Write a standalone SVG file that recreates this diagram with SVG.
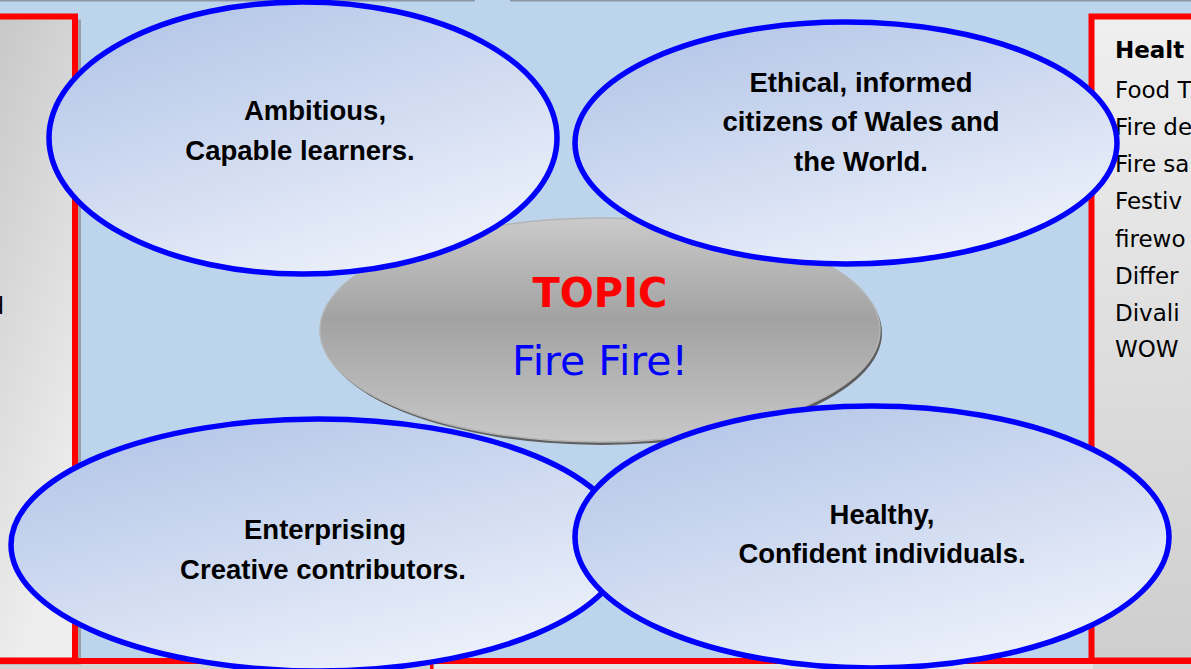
<svg xmlns="http://www.w3.org/2000/svg" width="1191" height="669" viewBox="0 0 1191 669">
  <defs>
    <linearGradient id="gLeft" x1="0" y1="0" x2="0.4" y2="1">
      <stop offset="0" stop-color="#C6C6C6"/>
      <stop offset="1" stop-color="#EEEEEE"/>
    </linearGradient>
    <linearGradient id="gRight" x1="0" y1="0" x2="0" y2="1">
      <stop offset="0" stop-color="#EFEFEF"/>
      <stop offset="1" stop-color="#CECECE"/>
    </linearGradient>
    <linearGradient id="gBlue" x1="0.15" y1="0" x2="0.75" y2="1">
      <stop offset="0" stop-color="#B2C4E7"/>
      <stop offset="1" stop-color="#EEF2FB"/>
    </linearGradient>
    <linearGradient id="gGray" x1="0" y1="0" x2="0" y2="1">
      <stop offset="0" stop-color="#CACACA"/>
      <stop offset="0.45" stop-color="#A2A2A2"/>
      <stop offset="1" stop-color="#C8C8C8"/>
    </linearGradient>
    <style>
      .panel { stroke: #FF0000; stroke-width: 6; }
      .oval { fill: url(#gBlue); stroke: #0000FF; stroke-width: 5.5; }
      .lbl { font-family: "Liberation Sans", Arial, sans-serif; font-weight: bold; font-size: 27.5px; fill: #000000; text-anchor: middle; }
      .side { font-family: "Comic Sans MS", "DejaVu Sans", sans-serif; font-size: 23px; fill: #000000; }
    </style>
  </defs>

  <!-- background -->
  <rect x="0" y="0" width="1191" height="669" fill="#BDD5EC"/>
  <rect x="0" y="0" width="475" height="1.5" fill="#8C96A5"/>
  <rect x="510" y="0" width="681" height="1.5" fill="#8C96A5"/>

  <!-- bottom strip -->
  <rect x="0" y="661" width="1191" height="8" fill="#D6D6D6"/>
  <rect x="433" y="661" width="660" height="8" fill="#E6E6E6"/>

  <!-- left panel -->
  <g id="left-panel">
    <rect x="-7" y="19.5" width="88" height="645" fill="#9AA0A8"/>
    <rect x="-10" y="16.5" width="85" height="644" fill="url(#gLeft)" class="panel"/>
    <text class="side" x="4" y="314" text-anchor="end">d</text>
  </g>

  <!-- right panel -->
  <g id="right-panel">
    <rect x="1091.5" y="16.5" width="120" height="644" fill="url(#gRight)" class="panel"/>
    <text class="side" x="1115" y="58" font-weight="bold">Healt</text>
    <text class="side" x="1115" y="98">Food T</text>
    <text class="side" x="1115" y="135">Fire de</text>
    <text class="side" x="1115" y="172">Fire sa</text>
    <text class="side" x="1115" y="209">Festiv</text>
    <text class="side" x="1115" y="247">firewo</text>
    <text class="side" x="1115" y="284">Differ</text>
    <text class="side" x="1115" y="321">Divali</text>
    <text class="side" x="1115" y="357">WOW</text>
  </g>

  <!-- bottom border lines -->
  <rect x="0" y="658" width="1191" height="6" fill="#FF0000"/>
  <rect x="430" y="661" width="3.5" height="8" fill="#FF0000"/>

  <!-- topic -->
  <g id="topic">
    <ellipse cx="602" cy="333" rx="280" ry="112" fill="#5E5E5E"/>
    <ellipse cx="600" cy="330" rx="280" ry="112" fill="url(#gGray)" stroke="#B4B4B4" stroke-width="1.5"/>
    <text x="600" y="307" text-anchor="middle" font-family="'Comic Sans MS', 'DejaVu Sans', sans-serif" font-weight="bold" font-size="40" fill="#FF0000">TOPIC</text>
    <text x="600" y="375" text-anchor="middle" font-family="'Comic Sans MS', 'DejaVu Sans', sans-serif" font-size="41" fill="#0000FF">Fire Fire!</text>
  </g>

  <g id="ambitious">
    <ellipse class="oval" cx="303" cy="138" rx="254" ry="136"/>
    <text class="lbl" x="315" y="120">Ambitious,</text>
    <text class="lbl" x="300" y="160">Capable learners.</text>
  </g>

  <g id="ethical">
    <ellipse class="oval" cx="846" cy="143" rx="271" ry="121"/>
    <text class="lbl" x="861" y="92">Ethical, informed</text>
    <text class="lbl" x="861" y="131">citizens of Wales and</text>
    <text class="lbl" x="861" y="171">the World.</text>
  </g>

  <g id="enterprising">
    <ellipse class="oval" cx="318" cy="545" rx="307" ry="126"/>
    <text class="lbl" x="325" y="539">Enterprising</text>
    <text class="lbl" x="323" y="579">Creative contributors.</text>
  </g>

  <g id="healthy">
    <ellipse class="oval" cx="872" cy="537" rx="297" ry="131"/>
    <text class="lbl" x="882" y="524">Healthy,</text>
    <text class="lbl" x="882" y="563">Confident individuals.</text>
  </g>

  <g id="connectors"/>
</svg>
